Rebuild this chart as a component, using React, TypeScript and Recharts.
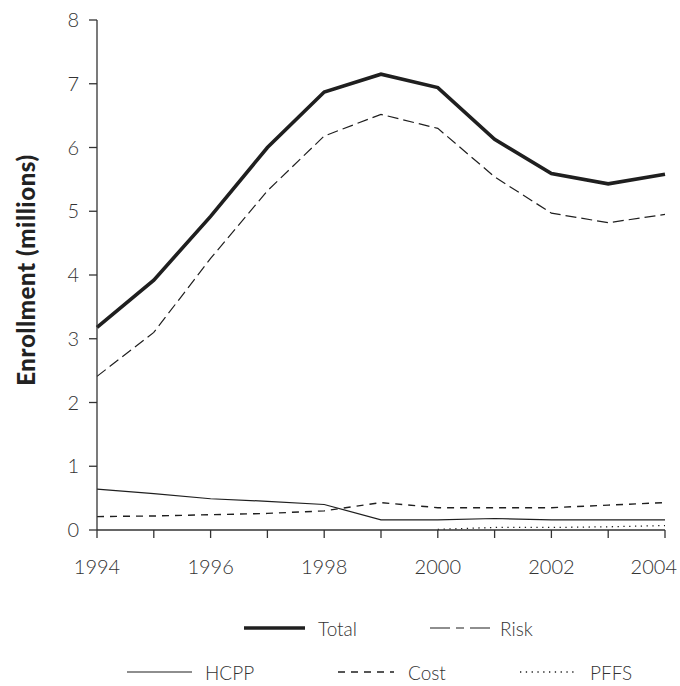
import React from 'react'
import { LineChart, Line, XAxis, YAxis } from 'recharts'

const years = [1994, 1995, 1996, 1997, 1998, 1999, 2000, 2001, 2002, 2003, 2004]
const total = [3.18, 3.92, 4.92, 6.0, 6.87, 7.15, 6.94, 6.13, 5.59, 5.43, 5.58]
const risk = [2.41, 3.1, 4.26, 5.32, 6.18, 6.52, 6.3, 5.54, 4.97, 4.82, 4.95]
const hcpp = [0.64, 0.57, 0.49, 0.45, 0.4, 0.16, 0.16, 0.18, 0.16, 0.16, 0.16]
const cost = [0.21, 0.22, 0.24, 0.26, 0.3, 0.43, 0.35, 0.35, 0.35, 0.39, 0.43]
const pffs = [null, null, null, null, null, null, 0.01, 0.04, 0.04, 0.05, 0.07]
const yTicks = [0, 1, 2, 3, 4, 5, 6, 7, 8]

const data = years.map((year, i) => ({
  year,
  Total: total[i],
  Risk: risk[i],
  HCPP: hcpp[i],
  Cost: cost[i],
  PFFS: pffs[i],
}))

const INK = '#1f1f1f'
const AXIS = '#333'
const FONT = 'Lato, "Noto Sans", sans-serif'

const series = [
  { key: 'Total', width: 3.6, dash: undefined },
  { key: 'Risk', width: 1.2, dash: '11 5' },
  { key: 'HCPP', width: 1.2, dash: undefined },
  { key: 'Cost', width: 1.4, dash: '7 6' },
  { key: 'PFFS', width: 1.3, dash: '1.3 4.5' },
]

// legend placement (two rows, like the original)
const legendLayout = [
  { key: 'Total', x1: 244, x2: 305, tx: 318, y: 628, dash: undefined, width: 3.6 },
  { key: 'Risk', x1: 430, x2: 493, tx: 500, y: 628, dash: '20 6 8 6 20', width: 1.2 },
  { key: 'HCPP', x1: 127, x2: 192, tx: 205, y: 672, dash: undefined, width: 1.2 },
  { key: 'Cost', x1: 338, x2: 394, tx: 408, y: 672, dash: '7 6', width: 1.4 },
  { key: 'PFFS', x1: 520, x2: 577, tx: 590, y: 672, dash: '1.3 4.5', width: 1.3 },
]

const XTick = ({ x, y, payload }: any) => {
  const v = payload.value
  if (v % 2 !== 0) return <g />
  const last = v === years[years.length - 1]
  return (
    <text
      x={last ? x + 12 : x}
      y={y}
      dy="0.71em"
      textAnchor={last ? 'end' : 'middle'}
      fontFamily={FONT}
      fontWeight={300}
      fontSize={20}
      fill="#333"
    >
      {v}
    </text>
  )
}

const YLabel = () => (
  <text
    x={25}
    y={270}
    transform="rotate(-90 25 270)"
    textAnchor="middle"
    dominantBaseline="central"
    fontFamily={FONT}
    fontWeight={900}
    fontSize={24}
    letterSpacing={0.6}
    fill="#222"
  >
    Enrollment (millions)
  </text>
)

export default function App() {
  return (
    <div style={{ position: 'absolute', left: 0, top: 0, width: 680, height: 686, background: '#fff' }}>
      <LineChart
        width={680}
        height={686}
        data={data}
        margin={{ top: 20, right: 15, bottom: 0, left: 0 }}
      >
        <XAxis
          dataKey="year"
          type="number"
          domain={[1994, 2004]}
          ticks={years}
          interval={0}
          height={156}
          tickSize={8}
          tickMargin={22}
          tick={<XTick />}
          stroke={AXIS}
          strokeWidth={1.3}
        />
        <XAxis
          xAxisId="top"
          orientation="top"
          dataKey="year"
          type="number"
          domain={[1994, 2004]}
          height={0}
          tick={false}
          tickLine={false}
          stroke={AXIS}
          strokeWidth={1.3}
        />
        <YAxis
          domain={[0, 8]}
          ticks={yTicks}
          interval={0}
          width={97}
          tickSize={8}
          tickMargin={10}
          tick={{ fontFamily: FONT, fontWeight: 300, fontSize: 20, fill: '#333' }}
          stroke={AXIS}
          strokeWidth={1.3}
          label={<YLabel />}
        />
        <YAxis
          yAxisId="right"
          orientation="right"
          domain={[0, 8]}
          width={0}
          tick={false}
          tickLine={false}
          stroke={AXIS}
          strokeWidth={1.3}
        />
        {series.map((s) => (
          <Line
            key={s.key}
            dataKey={s.key}
            type="linear"
            stroke={INK}
            strokeWidth={s.width}
            strokeDasharray={s.dash}
            dot={false}
            activeDot={false}
            connectNulls={false}
            isAnimationActive={false}
          />
        ))}
      </LineChart>
      <svg
        width={680}
        height={686}
        style={{ position: 'absolute', left: 0, top: 0, pointerEvents: 'none' }}
      >
        {legendLayout.map((l) => (
          <g key={l.key}>
            <line
              x1={l.x1}
              x2={l.x2}
              y1={l.y}
              y2={l.y}
              stroke={INK}
              strokeWidth={l.width}
              strokeDasharray={l.dash}
            />
            <text
              x={l.tx}
              y={l.y}
              dominantBaseline="central"
              fontFamily={FONT}
              fontWeight={300}
              fontSize={19}
              fill="#333"
            >
              {l.key}
            </text>
          </g>
        ))}
      </svg>
    </div>
  )
}
